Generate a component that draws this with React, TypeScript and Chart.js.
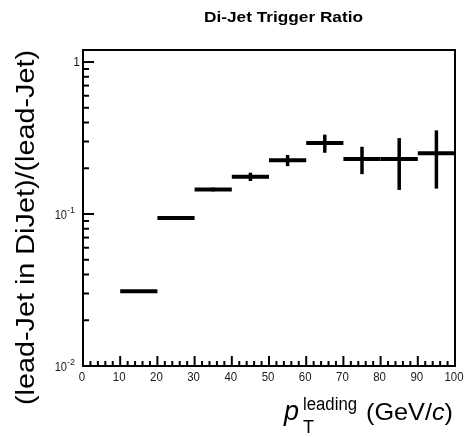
import React, { useEffect, useRef } from "react";
import { Chart, registerables } from "chart.js";

Chart.register(...registerables);

// ---- data ----
const binLow = [10, 20, 30, 40, 50, 60, 70, 80, 90];
const binHigh = [20, 30, 40, 50, 60, 70, 80, 90, 100];
const ratio = [0.031, 0.094, 0.145, 0.176, 0.2255, 0.293, 0.23, 0.23, 0.251];
const ratioErr = [0.0004, 0.001, 0.004, 0.011, 0.019, 0.04, 0.047, 0.086, 0.104];

const xTickLabels = [0, 10, 20, 30, 40, 50, 60, 70, 80, 90, 100];
const yDecades = [0.01, 0.1, 1];
const yDecadeLabels = [
  { base: "10", exp: "-2" },
  { base: "10", exp: "-1" },
  { base: "1", exp: "" },
];

const TITLE = "Di-Jet Trigger Ratio";
const Y_TITLE = "(lead-Jet in DiJet)/(lead-Jet)";

const FONT = "'Liberation Sans', Arial, Helvetica, sans-serif";

function drawScaled(
  ctx: CanvasRenderingContext2D,
  text: string,
  x: number,
  y: number,
  font: string,
  targetWidth: number,
  align: "left" | "center" | "right"
) {
  ctx.save();
  ctx.font = font;
  const w = ctx.measureText(text).width;
  const s = targetWidth / w;
  ctx.translate(x, y);
  ctx.scale(s, 1);
  ctx.textAlign = align;
  ctx.textBaseline = "alphabetic";
  ctx.fillText(text, 0, 0);
  ctx.restore();
}

const rootStylePlugin = {
  id: "rootStyle",
  afterDatasetsDraw(chart: any) {
    const ctx: CanvasRenderingContext2D = chart.ctx;
    const xs = chart.scales.x;
    const ys = chart.scales.y;
    const area = chart.chartArea;

    ctx.save();
    ctx.fillStyle = "#000";
    ctx.strokeStyle = "#000";

    // error bars
    for (let i = 0; i < ratio.length; i++) {
      const x1 = xs.getPixelForValue(binLow[i]);
      const x2 = xs.getPixelForValue(binHigh[i]);
      const xc = xs.getPixelForValue((binLow[i] + binHigh[i]) / 2);
      const y = ys.getPixelForValue(ratio[i]);
      ctx.lineWidth = 4;
      ctx.beginPath();
      ctx.moveTo(x1, y);
      ctx.lineTo(x2, y);
      ctx.stroke();
      const yHi = ys.getPixelForValue(ratio[i] + ratioErr[i]);
      const yLo = ys.getPixelForValue(Math.max(ratio[i] - ratioErr[i], 1e-4));
      ctx.lineWidth = 3.5;
      ctx.beginPath();
      ctx.moveTo(xc, yHi);
      ctx.lineTo(xc, yLo);
      ctx.stroke();
    }

    // frame
    ctx.lineWidth = 2;
    ctx.strokeRect(area.left, area.top, area.right - area.left, area.bottom - area.top);

    // left ticks
    ctx.lineWidth = 2;
    for (const d of yDecades) {
      for (let m = 1; m <= 9; m++) {
        const v = d * m;
        if (v < ys.min - 1e-12 || v > ys.max) continue;
        const y = ys.getPixelForValue(v);
        const len = m === 1 ? 11 : 6;
        ctx.beginPath();
        ctx.moveTo(area.left, y);
        ctx.lineTo(area.left + len, y);
        ctx.stroke();
      }
    }
    // bottom ticks
    for (let v = 0; v <= 100; v += 2) {
      const x = xs.getPixelForValue(v);
      const len = v % 10 === 0 ? 10 : 5;
      ctx.beginPath();
      ctx.moveTo(x, area.bottom);
      ctx.lineTo(x, area.bottom - len);
      ctx.stroke();
    }

    // x tick labels
    ctx.fillStyle = "#1a1a1a";
    for (const v of xTickLabels) {
      const x = xs.getPixelForValue(v);
      ctx.save();
      ctx.font = `13px ${FONT}`;
      ctx.translate(x - 1, area.bottom + 15);
      ctx.scale(0.88, 1);
      ctx.textAlign = "center";
      ctx.textBaseline = "alphabetic";
      ctx.fillText(String(v), 0, 0);
      ctx.restore();
    }

    // y tick labels
    for (let i = 0; i < yDecades.length; i++) {
      const y = ys.getPixelForValue(yDecades[i]);
      const lab = yDecadeLabels[i];
      ctx.save();
      ctx.textBaseline = "alphabetic";
      if (lab.exp) {
        ctx.font = `9px ${FONT}`;
        ctx.textAlign = "right";
        const ew = ctx.measureText(lab.exp).width;
        const right = area.left - 8;
        ctx.fillText(lab.exp, right, y - 1);
        ctx.font = `12px ${FONT}`;
        ctx.save();
        ctx.translate(right - ew, y + 5);
        ctx.scale(0.92, 1);
        ctx.fillText(lab.base, 0, 0);
        ctx.restore();
      } else {
        ctx.font = `12px ${FONT}`;
        ctx.textAlign = "right";
        ctx.fillText(lab.base, area.left - 3, y + 4);
      }
      ctx.restore();
    }

    // title
    ctx.fillStyle = "#000";
    drawScaled(ctx, TITLE, 283.5, 22, `bold 15px ${FONT}`, 159, "center");

    // y title (rotated)
    ctx.save();
    ctx.translate(34, 227.5);
    ctx.rotate(-Math.PI / 2);
    drawScaled(ctx, Y_TITLE, 0, 0, `25px ${FONT}`, 355, "center");
    ctx.restore();

    // x title
    ctx.save();
    ctx.textBaseline = "alphabetic";
    ctx.textAlign = "left";
    ctx.font = `italic 27px ${FONT}`;
    ctx.fillText("p", 284, 420);
    ctx.restore();
    drawScaled(ctx, "leading", 303, 410, `18px ${FONT}`, 54, "left");
    ctx.save();
    ctx.font = `18px ${FONT}`;
    ctx.textAlign = "left";
    ctx.fillText("T", 303, 433);
    ctx.restore();

    // (GeV/c)
    ctx.save();
    const parts = [
      { t: "(GeV/", f: `24px ${FONT}` },
      { t: "c", f: `italic 24px ${FONT}` },
      { t: ")", f: `24px ${FONT}` },
    ];
    let total = 0;
    for (const p of parts) {
      ctx.font = p.f;
      total += ctx.measureText(p.t).width;
    }
    const s = 87 / total;
    ctx.translate(366, 420);
    ctx.scale(s, 1);
    ctx.textAlign = "left";
    ctx.textBaseline = "alphabetic";
    let cx = 0;
    for (const p of parts) {
      ctx.font = p.f;
      ctx.fillText(p.t, cx, 0);
      cx += ctx.measureText(p.t).width;
    }
    ctx.restore();

    ctx.restore();
  },
};

export default function App() {
  const ref = useRef<HTMLCanvasElement | null>(null);

  useEffect(() => {
    if (!ref.current) return;
    const chart = new Chart(ref.current, {
      type: "scatter",
      data: {
        datasets: [
          {
            label: "ratio",
            data: ratio.map((v, i) => ({ x: (binLow[i] + binHigh[i]) / 2, y: v })),
            pointRadius: 0,
            showLine: false,
          },
        ],
      },
      options: {
        animation: false,
        responsive: false,
        devicePixelRatio: 1,
        layout: { padding: { left: 83, right: 9, top: 50, bottom: 71 } },
        plugins: {
          legend: { display: false },
          tooltip: { enabled: false },
          title: { display: false },
        },
        scales: {
          x: { type: "linear", min: 0, max: 100, display: false },
          y: { type: "logarithmic", min: 0.01, max: 1.2, display: false },
        },
      },
      plugins: [rootStylePlugin],
    });
    return () => chart.destroy();
  }, []);

  return (
    <div
      style={{
        position: "fixed",
        left: 0,
        top: 0,
        width: 464,
        height: 437,
        background: "#fff",
      }}
    >
      <canvas ref={ref} width={464} height={437} style={{ display: "block" }} />
    </div>
  );
}
